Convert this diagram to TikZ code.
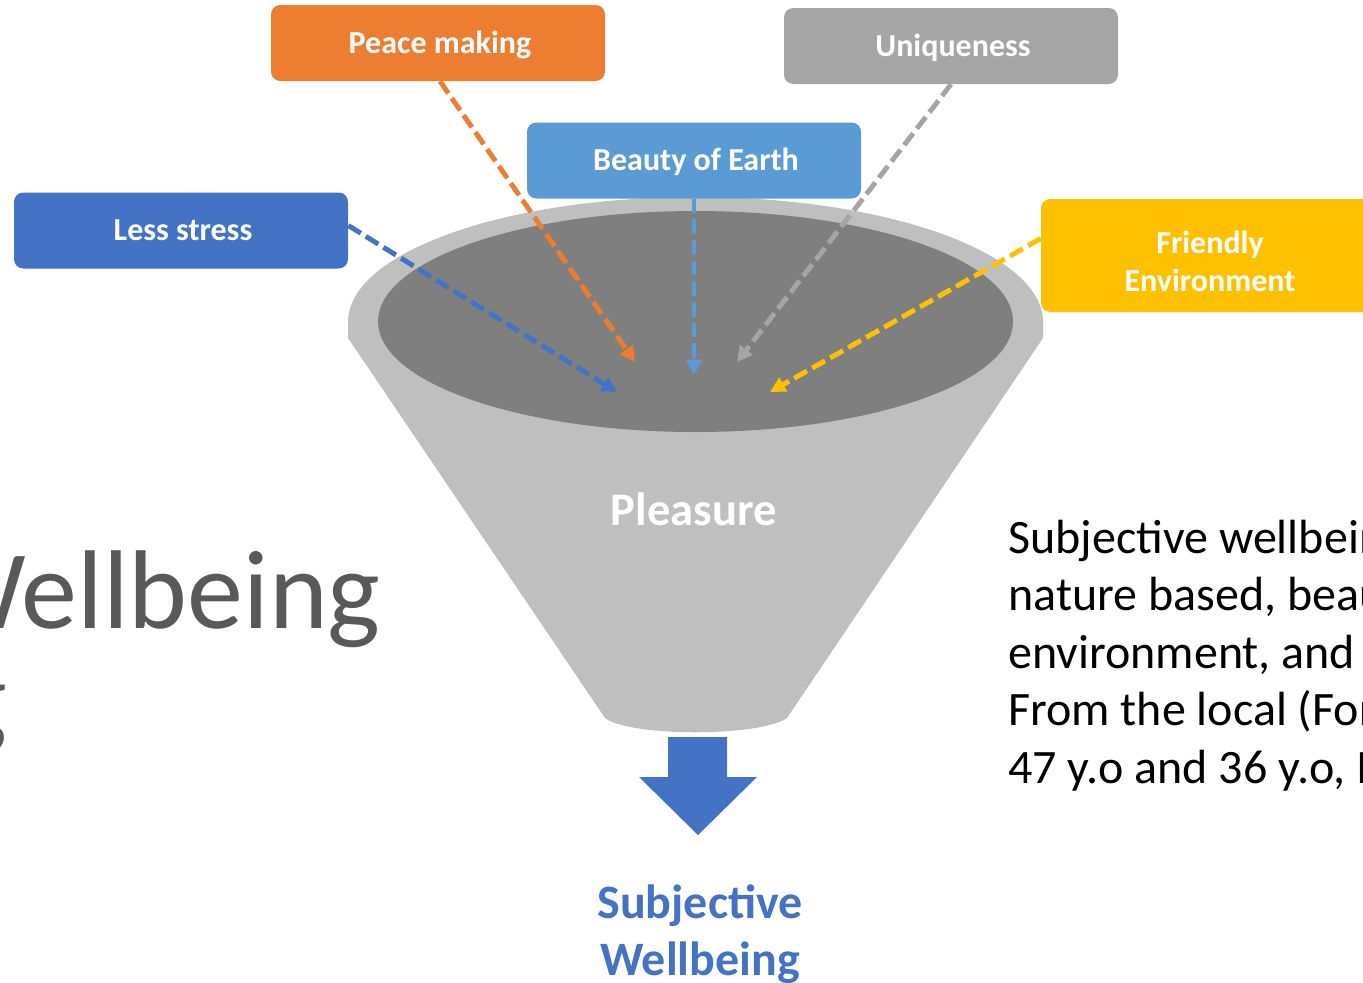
\documentclass[tikz,border=0pt]{standalone}
\usepackage{fontspec}
\setmainfont{Carlito}
\usetikzlibrary{arrows.meta,calc}
\definecolor{cBlue}{HTML}{4472C4}
\definecolor{cOrange}{HTML}{ED7D31}
\definecolor{cGray}{HTML}{A5A5A5}
\definecolor{cLightBlue}{HTML}{5B9BD5}
\definecolor{cGold}{HTML}{FFC000}
\definecolor{cFunnelOut}{HTML}{BFBFBF}
\definecolor{cFunnelIn}{HTML}{7F7F7F}
\definecolor{cText}{HTML}{595959}
\begin{document}
\begin{tikzpicture}[x=0.75pt,y=-0.75pt,
  box/.style={rounded corners=7pt, minimum width=250.5pt, minimum height=57pt,
    text=white, font=\fontsize{24}{28.5}\selectfont\bfseries, inner sep=0pt, align=center},
  onebox/.style={box, text height=15.5pt, text depth=0pt},
  conn/.style={line width=3.7pt, dash pattern=on 11pt off 4.5pt,
    -{Triangle[length=11.5pt,width=11.5pt]}},
  rtext/.style={anchor=base west, inner sep=0pt, font=\fontsize{36}{43.5}\selectfont, text=black}]
\useasboundingbox (0,0) rectangle (1363,982);
\clip (0,0) rectangle (1363,982);
% funnel
\fill[cFunnelOut] (348,322) -- (348,338) -- (605,718)
  .. controls (630,737) and (760,737) .. (787,718) -- (1043,338) -- (1043,322) -- cycle;
\fill[cFunnelOut] (695.5,322) ellipse [x radius=347.5, y radius=125];
\fill[cFunnelIn] (695.5,321.5) ellipse [x radius=317.5, y radius=110.5];
\node[inner sep=0pt, anchor=base, text=white, font=\fontsize{35}{42}\selectfont\bfseries] (pleasure) at (694,525) {Pleasure};
% boxes
\node[onebox, fill=cBlue] (less) at (181,230.5) {\hspace*{3pt}Less stress};
\node[onebox, fill=cOrange] (peace) at (438,43) {\hspace*{3pt}Peace making};
\node[onebox, fill=cGray] (uniq) at (951,46) {\hspace*{3pt}Uniqueness};
\node[onebox, fill=cLightBlue] (beauty) at (694,160.5) {\hspace*{3pt}Beauty of Earth};
\node[box, fill=cGold, minimum height=84.75pt] (friendly) at (1208,255.5) {\rule{0pt}{25pt}\hspace*{3pt}Friendly\\\hspace*{3pt}Environment};
% targets
\coordinate (t1) at (617,392);
\coordinate (t2) at (635,362);
\coordinate (t3) at (694,375);
\coordinate (t4) at (737,362);
\coordinate (t5) at (770,392);
\draw[conn, cBlue] ($(less.east)+(0,-5)$) -- (t1);
\draw[conn, cOrange] ($(peace.south)+(2,0)$) -- (t2);
\draw[conn, cLightBlue] (beauty.south) -- (t3);
\draw[conn, cGray] (uniq.south) -- (t4);
\draw[conn, cGold] ($(friendly.west)+(0,-17)$) -- (t5);
% output arrow
\fill[cBlue] (668,737) -- (727,737) -- (727,777) -- (757,777) -- (698,835) -- (639,777) -- (668,777) -- cycle;
\coordinate (outarrow) at (698,835);
\node[anchor=north, inner sep=0pt, align=center, text=cBlue,
  font=\fontsize{36}{43}\selectfont\bfseries] (swb) at (700,884) {Subjective\\Wellbeing};
% left title fragments
\node[anchor=base east, inner sep=0pt, text=cText, font=\fontsize{84}{100}\selectfont] (title) at (381,628) {Wellbeing};
\node[anchor=base east, inner sep=0pt, text=cText, font=\fontsize{84}{100}\selectfont] (title2) at (7,736) {g};
% right text
\node[rtext] (r1) at (1008,553) {Subjective wellbeing};
\node[rtext] (r2) at (1008,610.5) {nature based, beauty};
\node[rtext] (r3) at (1008,668) {environment, and};
\node[rtext] (r4) at (1008,725.5) {From the local (For};
\node[rtext] (r5) at (1008,783) {47 y.o and 36 y.o, I};
\end{tikzpicture}
\end{document}
